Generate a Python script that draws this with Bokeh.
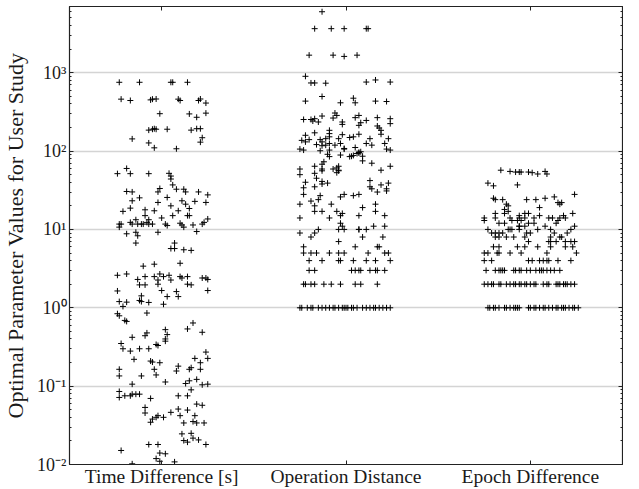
from bokeh.plotting import figure
from bokeh.models import Range1d, FixedTicker, LogAxis, LinearAxis, CustomJSTickFormatter, ColumnDataSource
from bokeh.embed import file_html
from bokeh.resources import INLINE

categories = ["Time Difference [s]", "Operation Distance", "Epoch Difference"]

# ---- Time Difference [s] ----
time_jitter = [
    -0.23, -0.12, 0.05, 0.06, 0.14,
    -0.22, -0.17, -0.06, -0.05, -0.03, 0.09, 0.10, 0.20, 0.21, 0.24,
    -0.01, 0.15, 0.24, 0.19,
    -0.07, -0.05, -0.04, -0.03, 0.03, 0.16, 0.19, 0.21,
    -0.16, 0.22, 0.21, -0.07, -0.04, 0.08,
    -0.19, -0.24, -0.17, -0.07, 0.04, 0.05, 0.05, 0.06,
    -0.19, -0.16, -0.01, -0.02, 0.08, 0.12, 0.13, 0.20, 0.25, 0.03, -0.12, -0.16, -0.02, 0.11, 0.13, 0.18, 0.24, 0.05, 0.15,
    -0.21, -0.17, -0.09, -0.04, 0.09, -0.09, 0.06, 0.14, 0.15, 0.00, -0.07, -0.14,
    -0.23, -0.22, -0.23, -0.17, -0.16, -0.13, -0.11, -0.10, -0.08, -0.07, -0.05, 0.02, 0.03, 0.10, 0.11, 0.12, 0.17, 0.22, 0.23, 0.25,
    -0.19, -0.14, -0.13, -0.02, 0.19,
    -0.14, 0.07, 0.05, 0.07, 0.12, 0.16,
    -0.10, -0.04, 0.10,
    -0.24, -0.19, -0.13, -0.09, -0.04, -0.01, 0.01, 0.04, 0.10, 0.11, 0.14, 0.22, 0.24, 0.25,
    -0.12, -0.09, -0.02, 0.05, 0.14, 0.16, -0.02,
    -0.24, 0.00, 0.25, 0.08, -0.11, 0.03, 0.09,
    -0.23, -0.19, -0.12, -0.11, -0.07, -0.21, 0.01,
    -0.24, -0.23, -0.20, -0.19, -0.08,
    0.17, 0.14, 0.22, -0.08, -0.09, 0.02, 0.03, 0.02, -0.16,
    -0.22, -0.21, -0.17, -0.12, -0.07, -0.03, -0.02, 0.02, 0.24,
    -0.15, -0.06, -0.01, 0.18, 0.25, 0.21, -0.05,
    -0.23, -0.23, -0.04, 0.09, 0.08, 0.15, 0.16, 0.21, -0.11, -0.03,
    0.02, -0.16, 0.13, 0.15, 0.19, 0.22, 0.25,
    -0.23, -0.23, -0.20, -0.17, -0.16, -0.14, -0.12, -0.06, 0.09, 0.14, 0.16,
    -0.09, -0.09, -0.06, -0.05, -0.03, -0.02, 0.01, 0.05, 0.09, 0.10, 0.14, 0.18, 0.19, 0.22,
    0.12, 0.17, 0.19, 0.23,
    0.11, 0.16, 0.12, 0.14, 0.17, 0.20, 0.24, -0.07, -0.02,
    -0.22, -0.01, 0.02, -0.03, -0.01, 0.07, -0.16,
]
time_values = [
    755, 755, 755, 755, 755,
    460, 442, 450, 460, 462, 460, 442, 442, 462, 410,
    300, 298, 305, 270,
    185, 190, 193, 190, 190, 185, 193, 193,
    143, 148, 130, 127, 110, 107,
    60, 51.5, 51.5, 51.5, 52, 48, 44, 37,
    30.5, 30.1, 33.3, 30.1, 32.6, 32.6, 30.1, 30.1, 27.6, 25.6, 25.3, 23.2, 22.1, 23.2, 21, 22.8, 22.1, 20, 18.5,
    17, 18.7, 17.8, 17.3, 17.3, 15, 15, 15, 15, 14, 13.3, 13.3,
    11.7, 11.7, 10.7, 12.3, 11.7, 11.7, 11.7, 11.7, 12.3, 11.7, 11.7, 11.7, 11.2, 12, 11.4, 10.7, 11.4, 11.7, 12.3, 13.6,
    8.8, 9.2, 8.3, 9.2, 9.4,
    6.7, 6.7, 5.7, 5.7, 5.5, 5.4,
    3.4, 3.6, 3.7,
    2.6, 2.7, 2.3, 2.5, 2.5, 2.7, 2.5, 2.6, 2.5, 2.4, 2.5, 2.4, 2.4, 2.3,
    1.96, 1.96, 2.0, 2.26, 2.0, 1.96, 2.26,
    1.64, 1.66, 1.66, 1.61, 1.42, 1.39, 1.39,
    1.2, 1.18, 1.24, 1.2, 1.17, 1.04, 1.11,
    0.84, 0.79, 0.69, 0.67, 0.857,
    0.64, 0.537, 0.487, 0.478, 0.44, 0.526, 0.455, 0.40, 0.42,
    0.35, 0.30, 0.28, 0.30, 0.30, 0.34, 0.33, 0.375, 0.272,
    0.22, 0.209, 0.199, 0.226, 0.226, 0.199, 0.203,
    0.164, 0.135, 0.164, 0.18, 0.156, 0.164, 0.172, 0.164, 0.135, 0.139,
    0.113, 0.106, 0.108, 0.117, 0.122, 0.104, 0.106,
    0.0855, 0.0717, 0.0753, 0.0753, 0.079, 0.079, 0.079, 0.0697, 0.0753, 0.0753, 0.0897,
    0.0535, 0.0454, 0.0346, 0.038, 0.040, 0.042, 0.040, 0.0463, 0.051, 0.042, 0.0495, 0.042, 0.059, 0.057,
    0.0339, 0.0353, 0.0339, 0.0339,
    0.0246, 0.025, 0.0202, 0.0193, 0.0217, 0.0206, 0.018, 0.018, 0.018,
    0.0151, 0.014, 0.0137, 0.0119, 0.011, 0.0108, 0.0102,
]

# ---- Operation Distance ----
op_jitter = [
    -0.13, -0.17, -0.08, -0.01, 0.11, 0.12, -0.20, -0.07, -0.01, 0.06, -0.22, -0.19, -0.17, -0.11, 0.11, 0.16, 0.24,
    -0.22, -0.13, -0.03, 0.04, 0.05, 0.16, 0.22,
    -0.23, -0.19, -0.18, -0.17, -0.15, -0.13, -0.07, -0.06, -0.05, -0.02, -0.02, 0.05, 0.07, 0.11, 0.08, 0.07, 0.17, 0.17, 0.18, 0.19, 0.24, 0.24, 0.19,
    -0.22, -0.24, -0.22, -0.20, -0.17, -0.14, -0.13, -0.11, -0.09, -0.09, -0.09, -0.04, -0.02, 0.02, 0.04, 0.07, 0.13, 0.11, 0.14, 0.21, 0.23,
    -0.16, -0.13, -0.11, -0.09, -0.06, -0.03, -0.01, 0.05, -0.25, -0.23, -0.09, -0.14, 0.07, 0.08, 0.22, 0.24, -0.01,
    -0.09, -0.10, -0.03, 0.02, 0.03, 0.04, 0.06, 0.07, 0.09, 0.09, -0.12, -0.13,
    -0.25, -0.25, -0.17, -0.13, -0.13, -0.07, -0.05, -0.04, -0.04, -0.05, -0.04, 0.14, 0.19, 0.24, -0.17, -0.16,
    -0.22, -0.23, -0.23, -0.17, -0.13, -0.13, -0.10, 0.13, 0.13, 0.14, 0.17, 0.19, 0.23, 0.22, 0.22,
    -0.01, -0.03, 0.04, 0.07, -0.14, -0.15, -0.19, -0.17, -0.17, -0.25, -0.13, -0.08, -0.05, -0.02, -0.03, 0.09, 0.16, 0.16, 0.07, 0.21, -0.25, -0.09,
    -0.03, -0.02, -0.04, -0.01, 0.07, 0.07, 0.11, 0.15, 0.21, -0.15, -0.17, -0.19, -0.25, 0.09, 0.20, -0.04, -0.23, 0.05, 0.17, 0.18,
    -0.23, -0.19, -0.16, -0.09, -0.04, -0.01, 0.12, 0.21, 0.23,
    -0.20, -0.13, -0.04, -0.03, 0.04, 0.11, 0.16, 0.24,
    -0.20, -0.17, 0.03, 0.05, 0.07, 0.08, 0.13, 0.16, 0.17, 0.21,
    -0.23, -0.22, -0.19, -0.17, -0.12, -0.08, -0.03, 0.05, 0.08, 0.17,
    -0.25, -0.24, -0.21, -0.19, -0.18, -0.15, -0.13, -0.11, -0.09, -0.07, -0.06, -0.04, -0.02, -0.01,
    0.00, 0.01, 0.03, 0.04, 0.06, 0.09, 0.11, 0.13, 0.15, 0.16, 0.18, 0.20, 0.22, 0.24,
]
op_values = [
    6000, 3650, 3650, 3650, 3650, 3650, 1675, 1675, 1615, 1675, 900, 740, 740, 735, 760, 808, 760,
    434, 497, 413, 473, 413, 434, 429,
    253, 253, 242, 259, 235, 280, 264, 306, 285, 235, 219, 267, 285, 246, 230, 213, 267, 209, 197, 184, 259, 224, 164,
    159, 137, 131, 140, 171, 140, 131, 144, 184, 167, 152, 144, 162, 149, 152, 164, 144, 125, 119, 125, 144,
    121, 117, 119, 125, 119, 125, 108, 111, 106, 103, 103, 101, 96, 98, 106, 103, 106,
    85, 91, 89, 85, 86, 88, 93, 95, 86, 75, 73, 68,
    59, 50, 64, 59, 56, 59, 61, 64, 56, 53, 57, 70, 57, 64, 52, 45,
    40, 34, 28, 35, 41, 38, 39, 42, 35, 33, 30, 37, 39, 33, 31,
    28, 26, 27, 28, 27, 24, 23, 20, 17, 21, 17, 21, 17, 16, 15, 19, 21, 17, 15, 15, 14, 14,
    12, 11, 10, 10, 10, 10, 10, 11, 11, 10, 9, 8, 9, 8, 8, 7, 6, 6, 6, 6,
    5, 5, 5, 5, 5, 5, 5, 5, 5,
    4, 4, 4, 4, 4, 4, 4, 4,
    3, 3, 3, 3, 3, 3, 3, 3, 3, 3,
    2, 2, 2, 2, 2, 2, 2, 2, 2, 2,
    1, 1, 1, 1, 1, 1, 1, 1, 1, 1, 1, 1, 1, 1,
    1, 1, 1, 1, 1, 1, 1, 1, 1, 1, 1, 1, 1, 1,
]

# ---- Epoch Difference ----
epoch_jitter = [
    -0.16, -0.11, -0.08, -0.06, -0.05, -0.01, 0.01, 0.04, 0.08, 0.09, -0.23, -0.20, -0.07,
    -0.20, -0.19, -0.15, -0.02, 0.03, 0.08, 0.13, 0.24, 0.15, 0.17, 0.16, -0.13, -0.12, -0.14, -0.14, -0.12,
    -0.19, -0.25, -0.25, -0.19, -0.17, -0.14, -0.11, -0.10, -0.07, -0.06, -0.06, -0.05, -0.03, -0.01, -0.03, -0.01,
    0.02, 0.02, 0.05, 0.05, 0.10, 0.12, 0.16, 0.18, 0.19, 0.23, 0.15, 0.14, -0.06, -0.06, -0.03, 0.08, 0.11, 0.13, 0.24, 0.22, 0.20,
    -0.23, -0.21, -0.19, -0.17, -0.15, -0.19, -0.17, -0.13, -0.09, -0.12, -0.11, -0.10, -0.06, -0.02, 0.00, -0.03,
    0.04, 0.11, 0.16, 0.17, 0.19, 0.24, 0.22, -0.01, 0.10, 0.11, 0.14,
    -0.20, -0.17, -0.07, -0.03, 0.04, 0.11, 0.19, 0.23,
    -0.25, -0.23, -0.18, -0.17, -0.11, -0.05, 0.09, 0.25,
    -0.25, -0.21, -0.01, 0.01, 0.05, 0.07, 0.09, 0.10, 0.15, 0.22,
    -0.24, -0.19, -0.17, -0.16, -0.15, -0.14, -0.09, -0.08, -0.06, -0.05, -0.02, 0.00, 0.03, 0.05, 0.06, 0.07, 0.09, 0.11, 0.13, 0.16,
    -0.25, -0.23, -0.21, -0.20, -0.17, -0.16, -0.13, -0.11, -0.09, -0.08, -0.06, -0.05, -0.03, -0.02,
    0.00, 0.02, 0.03, 0.07, 0.09, 0.10, 0.14, 0.15, 0.16, 0.18, 0.19, 0.20, 0.22, 0.24,
    -0.23, -0.22, -0.20, -0.19, -0.17, -0.14, -0.13, -0.11, -0.09, -0.08, -0.07, -0.06, -0.01, 0.00, 0.02,
    0.03, 0.05, 0.07, 0.08, 0.10, 0.12, 0.14, 0.15, 0.17, 0.18, 0.19, 0.21, 0.23, 0.24, 0.26,
]
epoch_values = [
    57, 55, 54, 54, 54, 54, 53, 51, 55, 51, 39, 36, 37,
    25, 24, 24, 24, 24, 25, 26, 28, 22, 22, 21, 21, 20, 18, 16, 17,
    16, 14, 13, 14, 12, 12, 14, 13, 13, 15, 14, 13, 16, 16, 14, 12,
    12, 14, 15, 19, 14, 14, 14, 15, 14, 16, 13, 12, 11, 11, 11, 11, 10, 9, 11, 10, 9,
    10, 9, 9, 9, 9, 8, 8, 8, 8, 10, 10, 10, 10, 9, 9, 8,
    10, 8, 8, 8, 7, 7, 7, 7, 7, 7, 7,
    6, 6, 6, 6, 6, 6, 6, 6,
    5, 5, 5, 5, 5, 5, 5, 5,
    4, 4, 4, 4, 4, 4, 4, 4, 4, 4,
    3, 3, 3, 3, 3, 3, 3, 3, 3, 3, 3, 3, 3, 3, 3, 3, 3, 3, 3, 3,
    2, 2, 2, 2, 2, 2, 2, 2, 2, 2, 2, 2, 2, 2,
    2, 2, 2, 2, 2, 2, 2, 2, 2, 2, 2, 2, 2, 2,
    1, 1, 1, 1, 1, 1, 1, 1, 1, 1, 1, 1, 1, 1, 1,
    1, 1, 1, 1, 1, 1, 1, 1, 1, 1, 1, 1, 1, 1, 1,
]

groups = [(time_jitter, time_values), (op_jitter, op_values), (epoch_jitter, epoch_values)]
xs, ys = [], []
for i, (jit, vals) in enumerate(groups):
    n = min(len(jit), len(vals))
    xs += [i + 1 + j for j in jit[:n]]
    ys += list(vals[:n])
source = ColumnDataSource(dict(x=xs, y=ys))

FONT = "Liberation Serif"

p = figure(width=623, height=489, y_axis_type="log",
           x_range=Range1d(0.5, 3.5), y_range=Range1d(0.01, 7000),
           output_backend="svg", toolbar_location=None,
           min_border_left=0, min_border_right=1, min_border_top=6, min_border_bottom=0,
           background_fill_color="white", border_fill_color="white")

decades = [0.01, 0.1, 1, 10, 100, 1000]
minors = [m * d for d in [0.01, 0.1, 1, 10, 100, 1000] for m in range(2, 10)]
yticker = FixedTicker(ticks=decades, minor_ticks=minors)
xticker = FixedTicker(ticks=[1, 2, 3])

sup_code = """
const e = Math.round(Math.log10(tick));
const sup = {'0':'\u2070','1':'\u00b9','2':'\u00b2','3':'\u00b3','4':'\u2074','5':'\u2075','6':'\u2076','7':'\u2077','8':'\u2078','9':'\u2079','-':'\u207b'};
return '10' + String(e).split('').map(c => sup[c]).join('');
"""
blank = CustomJSTickFormatter(code="return ''")

def style_axis(ax):
    ax.axis_line_color = "#222222"
    ax.axis_line_width = 1.2
    ax.major_tick_in = 4
    ax.major_tick_out = 0
    ax.minor_tick_in = 2
    ax.minor_tick_out = 0
    ax.major_tick_line_color = "#222222"
    ax.minor_tick_line_color = "#222222"
    ax.major_label_text_font = FONT
    ax.major_label_text_font_size = "18px"
    ax.major_label_text_color = "#1a1a1a"

# left
ly = p.yaxis[0]
ly.ticker = yticker
ly.formatter = CustomJSTickFormatter(code=sup_code)
style_axis(ly)
ly.major_label_standoff = 3
ly.axis_label = "Optimal Parameter Values for User Study"
ly.axis_label_text_font = FONT
ly.axis_label_text_font_size = "22px"
ly.axis_label_text_font_style = "normal"
ly.axis_label_text_color = "#1a1a1a"
ly.axis_label_standoff = 6

# bottom
bx = p.xaxis[0]
bx.ticker = xticker
bx.major_label_overrides = {1: categories[0], 2: categories[1], 3: categories[2]}
style_axis(bx)
bx.major_label_text_font_size = "19.5px"
bx.major_label_standoff = 1

# top & right (ticks only)
tx = LinearAxis(ticker=xticker, formatter=blank, major_label_standoff=0)
style_axis(tx)
p.add_layout(tx, "above")
ry = LogAxis(ticker=yticker, formatter=blank, major_label_standoff=0)
style_axis(ry)
p.add_layout(ry, "right")

p.xgrid.visible = False
p.ygrid.ticker = yticker
p.ygrid.grid_line_color = "#d4d4d4"
p.ygrid.grid_line_width = 1.5
p.outline_line_color = "#222222"
p.outline_line_width = 1

p.scatter("x", "y", source=source, marker="cross", size=6, line_color="black", line_width=1)

open("out.html", "w").write(file_html(p, INLINE))
